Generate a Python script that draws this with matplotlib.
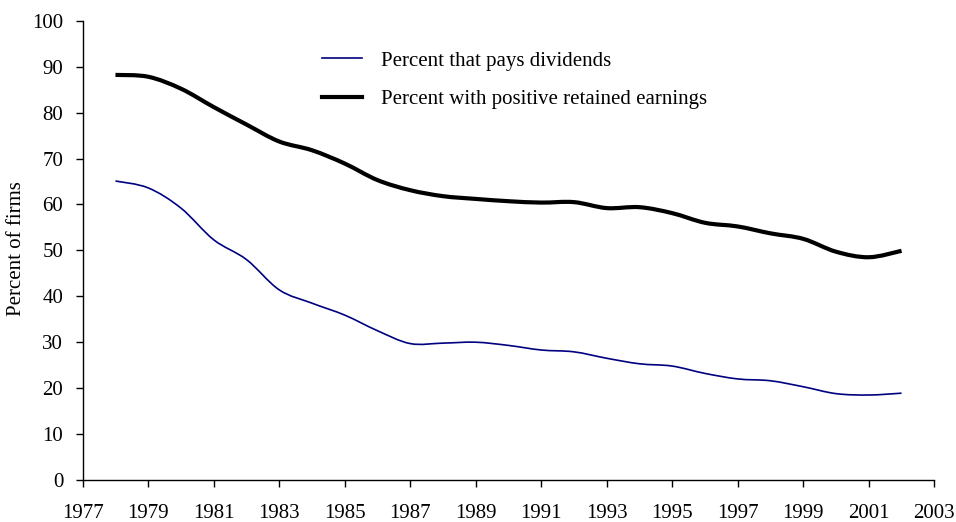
import numpy as np
import matplotlib
matplotlib.use("Agg")
import matplotlib.pyplot as plt
from matplotlib.path import Path
from matplotlib.patches import PathPatch
from matplotlib.lines import Line2D

years = list(range(1978, 2003))
pays_dividends = [65.1, 63.6, 59.2, 52.3, 48.0, 41.4, 38.5, 35.9, 32.5, 29.7,
                  29.8, 30.0, 29.3, 28.3, 27.9, 26.5, 25.3, 24.8, 23.2, 22.0,
                  21.6, 20.3, 18.8, 18.5, 18.9]
positive_re = [88.2, 87.8, 85.2, 81.2, 77.4, 73.7, 71.8, 68.9, 65.3, 63.1,
               61.8, 61.2, 60.7, 60.4, 60.5, 59.2, 59.4, 58.1, 56.0, 55.2,
               53.7, 52.5, 49.7, 48.5, 49.9]
labels = ["Percent that pays dividends", "Percent with positive retained earnings"]
xticks = list(range(1977, 2004, 2))
yticks = list(range(0, 101, 10))

plt.rcParams['font.family'] = ['Liberation Serif', 'DejaVu Serif']

def smooth_path(x, y):
    # Catmull-Rom style cubic Bezier (as Excel smoothed lines)
    x = np.asarray(x, float); y = np.asarray(y, float)
    verts = [(x[0], y[0])]
    codes = [Path.MOVETO]
    n = len(x)
    for i in range(n - 1):
        x0, y0 = (x[i-1], y[i-1]) if i > 0 else (x[i], y[i])
        x1, y1 = x[i], y[i]
        x2, y2 = x[i+1], y[i+1]
        x3, y3 = (x[i+2], y[i+2]) if i + 2 < n else (x[i+1], y[i+1])
        c1 = (x1 + (x2 - x0) / 6.0, y1 + (y2 - y0) / 6.0)
        c2 = (x2 - (x3 - x1) / 6.0, y2 - (y3 - y1) / 6.0)
        verts += [c1, c2, (x2, y2)]
        codes += [Path.CURVE4] * 3
    return Path(verts, codes)

fig = plt.figure(figsize=(9.56, 5.22), dpi=100)
ax = fig.add_axes([0.0865, 0.0805, 0.8908, 0.8798])

blue = '#000080'
ax.add_patch(PathPatch(smooth_path(years, pays_dividends), facecolor='none',
                       edgecolor=blue, lw=1.2, capstyle='butt'))
ax.add_patch(PathPatch(smooth_path(years, positive_re), facecolor='none',
                       edgecolor='black', lw=3.0, capstyle='butt'))

ax.set_xlim(1977, 2003)
ax.set_ylim(0, 100)
ax.set_xticks(xticks)
ax.set_yticks(yticks)
ax.tick_params(axis='both', direction='out', length=5, width=1, labelsize=15,
               colors='black')
ax.tick_params(axis='x', pad=12)
ax.tick_params(axis='y', pad=9)
for s in ['top', 'right']:
    ax.spines[s].set_visible(False)
for s in ['left', 'bottom']:
    ax.spines[s].set_linewidth(1)
ax.set_ylabel('Percent of firms', fontsize=15)
ax.yaxis.set_label_coords(-0.066, 0.504)

handles = [Line2D([], [], color=blue, lw=1.2), Line2D([], [], color='black', lw=3.0)]
ax.legend(handles, labels, loc='upper left', bbox_to_anchor=(0.2806, 0.934),
          frameon=False, fontsize=15, handlelength=1.95, handletextpad=0.9,
          labelspacing=0.9, borderaxespad=0, borderpad=0)

fig.savefig('out.png', dpi=100)
